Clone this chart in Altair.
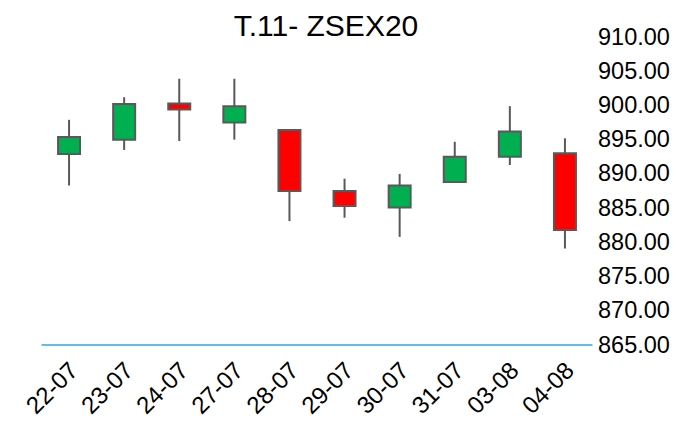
import altair as alt
import pandas as pd

dates = ["22-07", "23-07", "24-07", "27-07", "28-07", "29-07", "30-07", "31-07", "03-08", "04-08"]
opens = [892.9, 895.0, 900.3, 897.5, 896.4, 887.5, 885.1, 888.8, 892.5, 893.0]
highs = [897.9, 901.2, 903.9, 903.9, 896.4, 889.3, 890.0, 894.7, 899.9, 895.2]
lows = [888.3, 893.5, 894.8, 895.0, 883.1, 883.6, 880.8, 888.8, 891.3, 879.1]
closes = [895.4, 900.2, 899.4, 899.9, 887.5, 885.3, 888.3, 892.5, 896.2, 881.8]
y_ticks = [865, 870, 875, 880, 885, 890, 895, 900, 905, 910]

df = pd.DataFrame({"date": dates, "open": opens, "high": highs, "low": lows, "close": closes})
df["dir"] = ["up" if c >= o else "down" for o, c in zip(opens, closes)]

FONT = "Liberation Sans"

x = alt.X("date:N", sort=None, title=None,
          scale=alt.Scale(paddingInner=0, paddingOuter=0),
          axis=alt.Axis(labelAngle=-45, labelFontSize=24, labelFont=FONT, labelColor="#000000",
                        ticks=False, domain=False, labelOverlap=False,
                        labelPadding=13, labelOffset=-3, labelAlign="right", labelBaseline="top"))
yscale = alt.Scale(domain=[865, 910], nice=False, zero=False)

base = alt.Chart(df).encode(x=x)

wick = base.mark_rule(color="#595959", strokeWidth=2).encode(
    y=alt.Y("low:Q", scale=yscale, title=None,
            axis=alt.Axis(orient="right", values=y_ticks, tickCount=len(y_ticks), format=".2f",
                          labelFontSize=23.5, labelFont=FONT, labelColor="#000000", ticks=False,
                          domain=False, grid=False, labelPadding=5, labelOverlap=False)),
    y2="high:Q",
)

body = base.mark_bar(size=22, stroke="#595959", strokeWidth=2).encode(
    y=alt.Y("open:Q", scale=yscale, title=None),
    y2="close:Q",
    color=alt.Color("dir:N", scale=alt.Scale(domain=["up", "down"], range=["#00B050", "#FF0000"]),
                    legend=None),
)

baseline = alt.Chart(pd.DataFrame({"v": [y_ticks[0]]})).mark_rule(
    color="#2BA8E0", strokeWidth=1.5
).encode(y=alt.Y("v:Q", scale=yscale, title=None))

chart = alt.layer(wick, baseline, body).properties(
    width=551, height=308,
    autosize="none",
    padding={"left": 33.5, "top": 29, "right": 81, "bottom": 74},
    title=alt.TitleParams("T.11- ZSEX20", fontSize=30, font=FONT, fontWeight="normal",
                          color="#000000", anchor="middle", dx=9, dy=21),
).configure_view(stroke=None).configure_axis(labelOverlap=False)

chart.save("out.html", embed_options={"renderer": "svg", "actions": False})
